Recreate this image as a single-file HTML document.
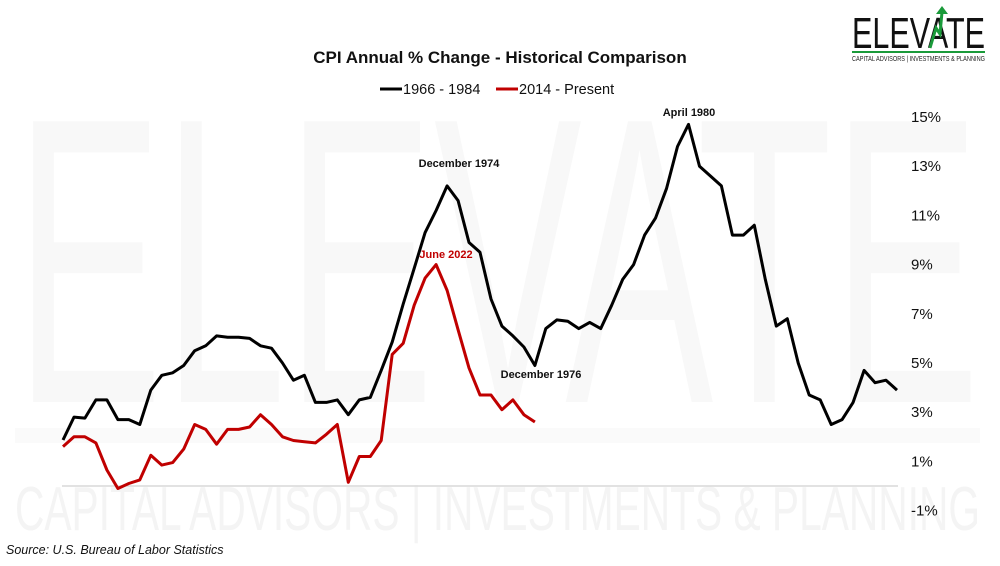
<!DOCTYPE html>
<html><head><meta charset="utf-8"><style>
body{margin:0;background:#fff;width:1000px;height:561px;overflow:hidden;font-family:"Liberation Sans",sans-serif;}
svg text{font-family:"Liberation Sans",sans-serif;}
</style></head><body>
<svg id="chart" width="1000" height="561" viewBox="0 0 1000 561" xmlns="http://www.w3.org/2000/svg">
<g>
<text x="15" y="402" font-size="408" fill="#f8f8f8" textLength="965" lengthAdjust="spacingAndGlyphs">ELEVATE</text>
<rect x="15" y="428" width="965" height="15" fill="#fafafa"/>
<text x="15" y="530" font-size="62" fill="#f4f4f4" textLength="965" lengthAdjust="spacingAndGlyphs">CAPITAL  ADVISORS | INVESTMENTS &amp; PLANNING</text>
</g>
<g>
<text x="852" y="48" font-size="44" fill="#111" textLength="133" lengthAdjust="spacingAndGlyphs">ELEVATE</text>
<polyline points="930,48 936,28 940,34 942,12" fill="none" stroke="#1a9a3a" stroke-width="3"/>
<polygon points="936,14 942,6 948,14" fill="#1a9a3a"/>
<rect x="852" y="51" width="133" height="2" fill="#1a9a3a"/>
<text x="852" y="61" font-size="7.5" fill="#222" textLength="133" lengthAdjust="spacingAndGlyphs">CAPITAL ADVISORS | INVESTMENTS &amp; PLANNING</text>
</g>
<text x="500" y="63" text-anchor="middle" font-size="17" font-weight="bold" fill="#111">CPI Annual % Change - Historical Comparison</text>
<g>
<g><line x1="380" y1="89" x2="402" y2="89" stroke="#000" stroke-width="3"/><text x="403" y="94" font-size="14.5" fill="#111">1966 - 1984</text></g>
<g><line x1="496" y1="89" x2="518" y2="89" stroke="#c00000" stroke-width="3"/><text x="519" y="94" font-size="14.5" fill="#111">2014 - Present</text></g>
</g>
<line x1="62" y1="486" x2="898" y2="486" stroke="#d9d9d9" stroke-width="1.5"/>
<g id="yaxis"></g>
<g id="series"></g>
<text x="689" y="116" text-anchor="middle" font-size="11" font-weight="bold" fill="#111">April 1980</text>
<text x="459" y="167" text-anchor="middle" font-size="11" font-weight="bold" fill="#111">December 1974</text>
<text x="446" y="258" text-anchor="middle" font-size="11" font-weight="bold" fill="#c00000">June 2022</text>
<text x="541" y="378" text-anchor="middle" font-size="11" font-weight="bold" fill="#111">December 1976</text>
<text x="6" y="554" font-size="12.5" font-style="italic" fill="#111">Source: U.S. Bureau of Labor Statistics</text>
</svg>
<script>
const yTicks=[-1,1,3,5,7,9,11,13,15];
const blackVals=[1.87,2.8,2.76,3.5,3.5,2.7,2.7,2.5,3.9,4.5,4.6,4.9,5.5,5.7,6.1,6.05,6.05,6.0,5.7,5.6,5.0,4.3,4.5,3.4,3.4,3.5,2.9,3.5,3.6,4.7,5.85,7.4,8.85,10.3,11.2,12.2,11.6,9.9,9.5,7.6,6.5,6.1,5.65,4.9,6.4,6.75,6.7,6.4,6.65,6.4,7.35,8.4,9.0,10.2,10.9,12.1,13.8,14.7,13.0,12.6,12.2,10.2,10.2,10.6,8.4,6.5,6.8,5.0,3.7,3.5,2.5,2.7,3.4,4.7,4.2,4.3,3.9];
const redVals=[1.6,2.0,2.0,1.75,0.65,-0.1,0.1,0.25,1.25,0.85,0.95,1.5,2.5,2.3,1.7,2.3,2.3,2.4,2.9,2.5,2.0,1.85,1.8,1.75,2.1,2.5,0.15,1.2,1.2,1.85,5.35,5.8,7.35,8.45,9.0,7.95,6.35,4.8,3.7,3.7,3.1,3.5,2.9,2.6];
const monthsPerPoint=3;
const totalMonths=228;
function xs(m){return 63+m*(897-63)/totalMonths;}
function ys(v){return 486-v*24.6;}
const NS="http://www.w3.org/2000/svg";
const ya=document.getElementById('yaxis');
yTicks.forEach(t=>{
 const tx=document.createElementNS(NS,'text');
 tx.setAttribute('x',911);tx.setAttribute('y',ys(t)+5);tx.setAttribute('font-size','15');tx.setAttribute('fill','#111');
 tx.textContent=t+'%';
 
 
 ya.appendChild(tx);
});
const sg=document.getElementById('series');
function draw(vals,color,name){
 const p=document.createElementNS(NS,'polyline');
 p.setAttribute('points',vals.map((v,i)=>xs(i*monthsPerPoint).toFixed(1)+','+ys(v).toFixed(1)).join(' '));
 p.setAttribute('fill','none');p.setAttribute('stroke',color);p.setAttribute('stroke-width','3');p.setAttribute('stroke-linejoin','round');
 
 
 sg.appendChild(p);
}
draw(blackVals,'#000','line-1966-1984');
draw(redVals,'#c00000','line-2014-present');
</script>
</body></html>
